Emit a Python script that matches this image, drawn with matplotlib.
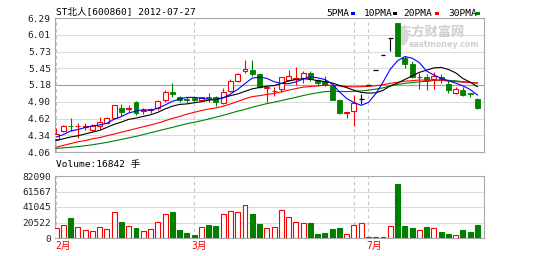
import numpy as np
import matplotlib.pyplot as plt
from matplotlib.patches import Rectangle, Ellipse

# ── Data ──────────────────────────────────────────────────────────────────────
title = "ST北人[600860] 2012-07-27"
vol_title = "Volume:16842 手"

opens = [4.28, 4.41, 4.50, 4.49, 4.48, 4.43, 4.50, 4.55, 4.62, 4.80,
         4.77, 4.89, 4.74, 4.76, 4.80, 4.92, 5.06, 4.97, 4.94, 4.96,
         4.93, 4.97, 4.97, 4.88, 5.08, 5.24, 5.40, 5.42, 5.35, 5.13,
         5.07, 5.11, 5.26, 5.28, 5.29, 5.38, 5.25, 5.24, 5.16, 4.92,
         4.71, 4.74, 4.95, 5.18, 5.43, 5.68, 5.95, 6.20, 5.63, 5.53,
         5.30, 5.31, 5.27, 5.30, 5.19, 5.04, 5.09, 5.04, 4.95]
highs = [4.46, 4.51, 4.63, 4.54, 4.54, 4.52, 4.65, 4.64, 4.85, 4.86,
         4.84, 4.91, 4.79, 4.80, 4.93, 5.09, 5.20, 4.99, 4.97, 4.98,
         4.98, 5.04, 4.99, 5.12, 5.27, 5.37, 5.59, 5.59, 5.37, 5.16,
         5.14, 5.31, 5.42, 5.47, 5.41, 5.41, 5.27, 5.33, 5.18, 4.94,
         4.72, 5.01, 5.02, 5.18, 5.43, 5.68, 5.95, 6.21, 5.66, 5.57,
         5.37, 5.36, 5.39, 5.35, 5.24, 5.14, 5.15, 5.04, 4.96]
lows = [4.27, 4.40, 4.41, 4.30, 4.43, 4.41, 4.44, 4.54, 4.61, 4.66,
        4.72, 4.68, 4.69, 4.71, 4.76, 4.90, 4.98, 4.89, 4.88, 4.90,
        4.91, 4.90, 4.82, 4.86, 5.06, 5.22, 5.37, 5.33, 5.13, 4.90,
        4.99, 5.06, 5.24, 5.18, 5.20, 5.24, 5.16, 5.16, 4.92, 4.69,
        4.63, 4.50, 4.86, 5.18, 5.43, 5.68, 5.74, 5.65, 5.46, 5.29,
        5.11, 5.09, 5.11, 5.21, 5.04, 5.03, 4.99, 4.97, 4.78]
closes = [4.36, 4.49, 4.49, 4.50, 4.50, 4.50, 4.56, 4.63, 4.84, 4.72,
          4.80, 4.71, 4.76, 4.77, 4.91, 5.06, 5.02, 4.93, 4.92, 4.92,
          4.97, 4.96, 4.89, 5.06, 5.24, 5.36, 5.44, 5.35, 5.14, 5.14,
          5.08, 5.30, 5.32, 5.29, 5.38, 5.27, 5.21, 5.18, 4.93, 4.71,
          4.72, 4.87, 4.95, 5.18, 5.43, 5.68, 5.95, 5.65, 5.53, 5.30,
          5.31, 5.24, 5.33, 5.25, 5.10, 5.11, 5.01, 5.03, 4.79]
volumes = [13200, 16800, 26500, 14100, 10600, 8800, 14100, 11500, 34800, 21600,
           15900, 12800, 8800, 11500, 21600, 31300, 34000, 10600, 6200, 4400,
           14100, 17200, 15900, 31300, 35300, 34000, 43200, 31300, 18100, 12800,
           14600, 36600, 27800, 21600, 19400, 20300, 5700, 7100, 11900, 12800,
           5700, 16800, 19400, 800, 800, 800, 15400, 71900, 15900, 13200,
           10100, 14600, 12800, 7900, 5700, 4400, 10600, 7900, 16842]

ma5 = [4.31, 4.35, 4.41, 4.434, 4.468, 4.496, 4.51, 4.538, 4.606, 4.65,
       4.71, 4.74, 4.766, 4.752, 4.79, 4.842, 4.904, 4.938, 4.968, 4.97,
       4.952, 4.94, 4.932, 4.96, 5.024, 5.102, 5.198, 5.29, 5.306, 5.286,
       5.23, 5.202, 5.196, 5.226, 5.274, 5.312, 5.294, 5.266, 5.194, 5.06,
       4.95, 4.882, 4.836, 4.886, 5.03, 5.222, 5.438, 5.578, 5.648, 5.622,
       5.548, 5.406, 5.342, 5.286, 5.246, 5.206, 5.16, 5.10, 5.008]
ma10 = [4.25, 4.28, 4.31, 4.33, 4.36, 4.39, 4.42, 4.47, 4.52, 4.559,
        4.603, 4.625, 4.652, 4.679, 4.72, 4.776, 4.822, 4.852, 4.86, 4.88,
        4.897, 4.922, 4.935, 4.964, 4.997, 5.027, 5.069, 5.111, 5.133, 5.155,
        5.166, 5.20, 5.243, 5.266, 5.28, 5.271, 5.248, 5.231, 5.21, 5.167,
        5.131, 5.088, 5.051, 5.04, 5.045, 5.086, 5.16, 5.207, 5.267, 5.326,
        5.385, 5.422, 5.46, 5.467, 5.434, 5.377, 5.283, 5.221, 5.147]
ma20 = [4.14, 4.17, 4.20, 4.23, 4.25, 4.28, 4.30, 4.33, 4.36, 4.39,
        4.42, 4.45, 4.48, 4.51, 4.54, 4.58, 4.62, 4.65, 4.69, 4.72,
        4.75, 4.774, 4.794, 4.822, 4.859, 4.902, 4.946, 4.982, 4.997, 5.018,
        5.032, 5.061, 5.089, 5.115, 5.139, 5.149, 5.159, 5.171, 5.172, 5.161,
        5.149, 5.144, 5.147, 5.153, 5.163, 5.179, 5.204, 5.219, 5.239, 5.247,
        5.258, 5.255, 5.256, 5.254, 5.240, 5.232, 5.222, 5.214, 5.207]
ma30 = [4.12, 4.13, 4.14, 4.15, 4.165, 4.18, 4.20, 4.22, 4.245, 4.27,
        4.295, 4.32, 4.35, 4.38, 4.41, 4.44, 4.47, 4.50, 4.53, 4.555,
        4.58, 4.61, 4.64, 4.67, 4.705, 4.74, 4.77, 4.805, 4.835, 4.865,
        4.889, 4.916, 4.943, 4.970, 4.999, 5.025, 5.046, 5.065, 5.068, 5.067,
        5.065, 5.07, 5.076, 5.09, 5.107, 5.128, 5.159, 5.183, 5.203, 5.216,
        5.227, 5.237, 5.251, 5.258, 5.253, 5.245, 5.230, 5.220, 5.208]

price_labels = ["4.06", "4.34", "4.62", "4.90", "5.18", "5.45", "5.73", "6.01", "6.29"]
vol_labels = ["0", "20522", "41045", "61567", "82090"]
month_names = ["2月", "3月", "7月"]
month_start = [0, 19, 43]
month_lines = [0, 19, 41, 43]
ma_names = ["5PMA", "10PMA", "20PMA", "30PMA"]

# ── Style ─────────────────────────────────────────────────────────────────────
RED, GREEN, BLACK, BLUE = "#ff0000", "#008000", "#000000", "#0000ff"
GRID = "#dcdcdc"
FRAME = "#a8a8a8"
MONO = ["DejaVu Sans Mono", "Noto Sans CJK SC"]
W, H = 536, 256

def fx(px):
    return px / W

def fy(py):
    return 1 - py / H

fig = plt.figure(figsize=(W / 100, H / 100), dpi=100)
fig.patch.set_facecolor("white")
ax = fig.add_axes([fx(55), fy(152), 429 / W, 134 / H])
axv = fig.add_axes([fx(55), fy(238), 429 / W, 62 / H])

x = np.arange(len(closes))
n = len(closes)
bw = 0.68

for a in (ax, axv):
    a.set_xlim(-0.15, n - 0.1)
    a.set_xticks([])
    for s in a.spines.values():
        s.set_color(FRAME)
        s.set_linewidth(0.8)
    a.tick_params(axis="y", length=0, pad=3, labelsize=6.8, labelcolor="#222222")
    for m in month_lines:
        a.axvline(m, color="#c4c4c4", lw=0.8, ls=(0, (3, 3)), zorder=1)

# ── Price panel ───────────────────────────────────────────────────────────────
pticks = np.linspace(4.06, 6.29, len(price_labels))
ax.set_ylim(4.06, 6.29)
ax.set_yticks(pticks)
ax.set_yticklabels(price_labels, family=MONO)
for i, p in enumerate(pticks):
    ax.axhline(p, color="#a0a0a0" if i == 4 else GRID, lw=0.8, zorder=0)

# watermark
ax.text(0.955, 0.895, "东方财富网", transform=ax.transAxes, ha="right", va="center",
        fontsize=9.5, fontweight="bold", color="#cfcfcf",
        family=["Noto Sans CJK SC"], zorder=0.5)
ax.text(0.99, 0.80, "eastmoney.com", transform=ax.transAxes, ha="right", va="center",
        fontsize=5.8, fontweight="bold", color="#cfcfcf", zorder=0.5)
ax.add_patch(Ellipse((0.81, 0.86), 0.028, 0.13, transform=ax.transAxes,
                     facecolor="#d6d6d6", edgecolor="none", zorder=0.5))

for i in x:
    o, h, l, c = opens[i], highs[i], lows[i], closes[i]
    col = RED if c > o else (GREEN if c < o else BLACK)
    ax.vlines(i, l, h, color=col, lw=0.8, zorder=2)
    if c == o:
        ax.hlines(o, i - bw / 2, i + bw / 2, color=col, lw=0.9, zorder=3)
    elif c > o:
        ax.bar(i, c - o, bottom=o, width=bw, facecolor="white", edgecolor=col,
               lw=0.8, zorder=3)
    else:
        ax.bar(i, c - o, bottom=o, width=bw, facecolor=col, edgecolor=col,
               lw=0.6, zorder=3)

ax.plot(x, ma30, color=GREEN, lw=0.8, zorder=4)
ax.plot(x, ma20, color=RED, lw=0.8, zorder=4)
ax.plot(x, ma10, color=BLACK, lw=0.8, zorder=4)
ax.plot(x, ma5, color=BLUE, lw=0.8, zorder=4)

# ── Volume panel ──────────────────────────────────────────────────────────────
vticks = np.linspace(0, 82090, len(vol_labels))
axv.set_ylim(0, 82090)
axv.set_yticks(vticks)
axv.set_yticklabels(vol_labels, family=MONO)
for v in vticks:
    axv.axhline(v, color=GRID, lw=0.8, zorder=0)

up = [c >= o for o, c in zip(opens, closes)]
axv.bar(x, volumes, width=bw,
        facecolor=["white" if u else GREEN for u in up],
        edgecolor=[RED if u else GREEN for u in up], lw=0.8, zorder=3)

for name, m in zip(month_names, month_start):
    axv.text(max(m - 0.35, -0.15), -0.05, name, transform=axv.get_xaxis_transform(),
             ha="left", va="top", color=RED, fontsize=7, family=MONO)

# ── Header texts ──────────────────────────────────────────────────────────────
fig.text(fx(56), fy(13), title, ha="left", va="center", fontsize=6.8, family=MONO)
fig.text(fx(56), fy(164), vol_title, ha="left", va="center", fontsize=6.8, family=MONO)

leg_x = [326, 364, 403, 448]
mark_x = [351, 393, 435, 476]
for name, tx, mx, col in zip(ma_names, leg_x, mark_x, [BLUE, BLACK, RED, GREEN]):
    fig.text(fx(tx), fy(13.3), name, ha="left", va="center", fontsize=6.8, family=MONO)
    fig.add_artist(Rectangle((fx(mx), fy(14.5)), 4 / W, 2.5 / H,
                             transform=fig.transFigure, facecolor=col, edgecolor="none"))

plt.savefig("out.png", dpi=100)
plt.close()
